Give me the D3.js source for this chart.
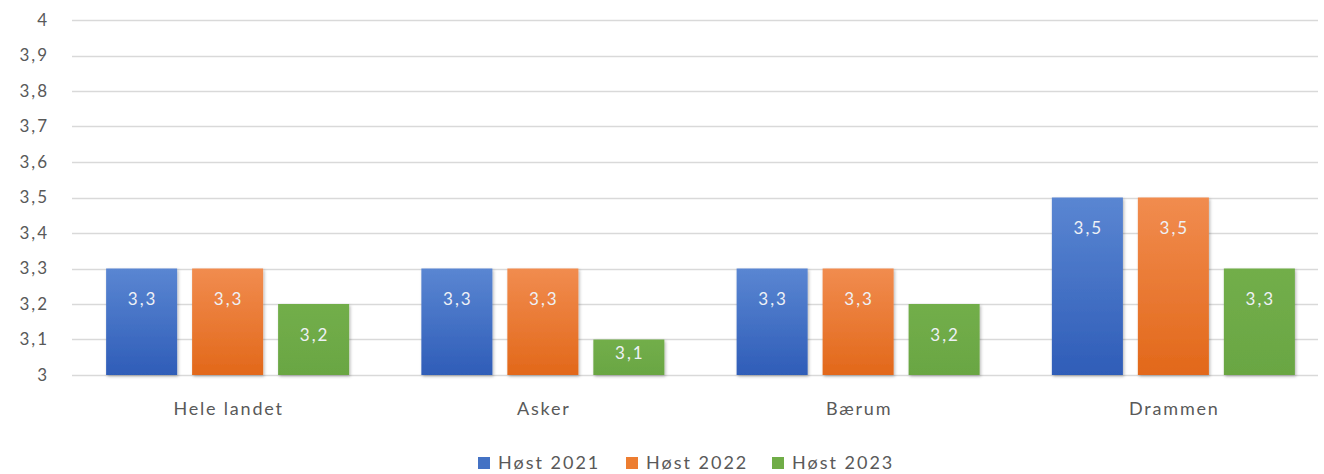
<!DOCTYPE html>
<html>
<head>
<meta charset="utf-8">
<script src="https://cdnjs.cloudflare.com/ajax/libs/d3/7.8.5/d3.min.js"></script>
<style>
  html, body { margin: 0; padding: 0; background: #fff; }
  svg { display: block; font-family: Lato, "Open Sans", sans-serif; }
</style>
</head>
<body>
<svg id="chart" width="1324" height="474"></svg>
<script>
const categories = ["Hele landet", "Asker", "Bærum", "Drammen"];
const seriesNames = ["Høst 2021", "Høst 2022", "Høst 2023"];
const host2021 = [3.3, 3.3, 3.3, 3.5];
const host2022 = [3.3, 3.3, 3.3, 3.5];
const host2023 = [3.2, 3.1, 3.2, 3.3];
const yTicks = [3, 3.1, 3.2, 3.3, 3.4, 3.5, 3.6, 3.7, 3.8, 3.9, 4];

const seriesValues = [host2021, host2022, host2023];
const colors = [
  { top: "#5a86d2", bottom: "#2f5db8", key: "#4472c4" },
  { top: "#f18c4f", bottom: "#e2681a", key: "#ed7d31" },
  { top: "#72ae4a", bottom: "#6aa643", key: "#70ad47" }
];

const svg = d3.select("#chart");
const margin = { left: 72, right: 6, top: 20, bottom: 99 };
const W = 1324, H = 474;

// category bands run slightly past the right gridline end
const x = d3.scaleBand().domain(categories).range([70, 1331]);
const xs = d3.scaleBand().domain(seriesNames).range([0, x.bandwidth()]).paddingInner(0.174).paddingOuter(0.42);
const y = d3.scaleLinear().domain([3, 4]).range([H - margin.bottom, margin.top]);

const fmt = v => d3.format(".1f")(v).replace(".", ",").replace(/,0$/, "");

// gradients and shadow
const defs = svg.append("defs");
colors.forEach((c, i) => {
  const g = defs.append("linearGradient").attr("id", "grad" + i)
    .attr("x1", 0).attr("y1", 0).attr("x2", 0).attr("y2", 1);
  g.append("stop").attr("offset", "0%").attr("stop-color", c.top);
  g.append("stop").attr("offset", "100%").attr("stop-color", c.bottom);
});
const f = defs.append("filter").attr("id", "shadow").attr("x", "-10%").attr("y", "-10%").attr("width", "130%").attr("height", "130%");
f.append("feDropShadow").attr("dx", 1.2).attr("dy", 1.5).attr("stdDeviation", 1.4)
  .attr("flood-color", "#000").attr("flood-opacity", 0.28);

// gridlines and y labels
const yAxis = d3.axisLeft(y).tickValues(yTicks).tickSize(0).tickPadding(0).tickFormat(fmt);
const ga = svg.append("g").attr("transform", `translate(${margin.left - 23},0)`).call(yAxis);
ga.select(".domain").remove();
ga.selectAll("text").attr("fill", "#595959").attr("font-size", 17)
  .attr("letter-spacing", "2px").attr("font-family", "Lato, sans-serif");

svg.append("g").selectAll("line").data(yTicks).join("line")
  .attr("x1", margin.left).attr("x2", W - margin.right)
  .attr("y1", d => Math.round(y(d)) + 0.5).attr("y2", d => Math.round(y(d)) + 0.5)
  .attr("stroke", "#d9d9d9").attr("stroke-width", 1.6);

// bars with value labels just inside the top
const groups = svg.append("g").selectAll("g").data(categories).join("g")
  .attr("transform", d => `translate(${x(d)},0)`);

groups.each(function(cat, ci) {
  const g = d3.select(this);
  seriesNames.forEach((s, si) => {
    const v = seriesValues[si][ci];
    const h = y(3) - y(v);
    g.append("rect")
      .attr("x", xs(s)).attr("width", xs.bandwidth())
      .attr("y", y(v)).attr("height", h)
      .attr("fill", `url(#grad${si})`)
      .attr("filter", "url(#shadow)");
    g.append("text")
      .attr("x", xs(s) + xs.bandwidth() / 2 + 1)
      .attr("y", y(v) + Math.min(36.5, h * 0.54))
      .attr("text-anchor", "middle")
      .attr("fill", "#eef1f6")
      .attr("font-size", 17)
      .attr("letter-spacing", "2px")
      .text(fmt(v));
  });
});

// category labels centred under each group
const gx = svg.append("g");
gx.selectAll("text").data(categories).join("text")
  .attr("x", d => x(d) + xs(seriesNames[1]) + xs.bandwidth() / 2 + 1)
  .attr("y", y(3) + 40)
  .attr("text-anchor", "middle")
  .attr("fill", "#595959").attr("font-size", 18)
  .attr("letter-spacing", "1.8px")
  .text(d => d);

// legend
const legendX = [478, 626, 772];
const legend = svg.append("g").selectAll("g").data(seriesNames).join("g")
  .attr("transform", (d, i) => `translate(${legendX[i]},462)`);
legend.append("rect").attr("x", 0).attr("y", -5).attr("width", 12).attr("height", 12)
  .attr("fill", (d, i) => colors[i].key);
legend.append("text").attr("x", 20).attr("y", 6.5)
  .attr("fill", "#595959").attr("font-size", 18).attr("letter-spacing", "2px").text(d => d);
</script>
</body>
</html>
